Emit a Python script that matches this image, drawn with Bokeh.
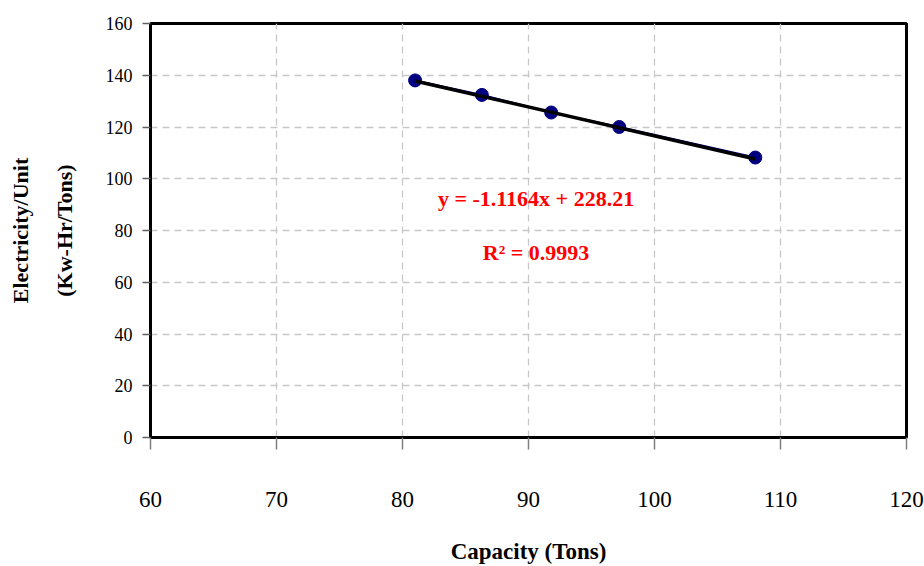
from bokeh.plotting import figure
from bokeh.models import Label, LinearAxis, FixedTicker, ColumnDataSource
from bokeh.embed import file_html
from bokeh.resources import INLINE

# ---- data ----
capacity = [81.0, 86.3, 91.8, 97.2, 108.0]
electricity = [138.0, 132.4, 125.6, 120.0, 108.2]
slope = -1.1164
intercept = 228.21
r_squared = 0.9993
x_ticks = [60, 70, 80, 90, 100, 110, 120]
y_ticks = [0, 20, 40, 60, 80, 100, 120, 140, 160]

FONT = "Liberation Serif"

p = figure(width=924, height=566, x_range=(60, 120), y_range=(0, 160),
           output_backend="svg", toolbar_location=None,
           min_border_left=150, min_border_right=18, min_border_top=23, min_border_bottom=129)

p.outline_line_color = "black"
p.outline_line_width = 3
p.background_fill_color = "white"
p.border_fill_color = "white"

# grid
for g in (p.xgrid, p.ygrid):
    g.grid_line_color = "#c8c8c8"
    g.grid_line_dash = "7 5"
    g.grid_line_width = 1.3
p.xaxis.ticker = FixedTicker(ticks=x_ticks)
p.yaxis.ticker = FixedTicker(ticks=y_ticks)

# x axis
xa = p.xaxis[0]
xa.axis_line_color = "black"
xa.axis_line_width = 3
xa.major_tick_in = 0
xa.major_tick_out = 12
xa.major_tick_line_color = "#808080"
xa.major_tick_line_width = 1.5
xa.minor_tick_line_color = None
xa.major_label_standoff = 42
xa.major_label_text_font = FONT
xa.major_label_text_font_size = "23px"
xa.major_label_text_color = "black"
xa.axis_label = "Capacity (Tons)"
xa.axis_label_text_font = FONT
xa.axis_label_text_font_size = "23px"
xa.axis_label_text_font_style = "bold"
xa.axis_label_text_color = "black"
xa.axis_label_standoff = 29

# y axis
ya = p.yaxis[0]
ya.axis_line_color = "black"
ya.axis_line_width = 3
ya.major_tick_in = 0
ya.major_tick_out = 8
ya.major_tick_line_color = "#606060"
ya.major_tick_line_width = 1.5
ya.minor_tick_line_color = None
ya.major_label_standoff = 10
ya.major_label_text_font = FONT
ya.major_label_text_font_size = "18px"
ya.major_label_text_color = "black"
ya.axis_label = "(Kw-Hr/Tons)"
ya.axis_label_text_font = FONT
ya.axis_label_text_font_size = "22px"
ya.axis_label_text_font_style = "bold"
ya.axis_label_text_color = "black"
ya.axis_label_standoff = 26

# outer line of the y title
ya2 = LinearAxis(ticker=FixedTicker(ticks=[]), axis_line_color=None,
                 major_tick_line_color=None, minor_tick_line_color=None,
                 major_tick_out=0, minor_tick_out=0,
                 axis_label="Electricity/Unit", axis_label_text_font=FONT,
                 axis_label_text_font_size="22px", axis_label_text_font_style="bold",
                 axis_label_text_color="black", axis_label_standoff=16)
p.add_layout(ya2, "left")

# data series
src = ColumnDataSource(dict(x=capacity, y=electricity))
p.line("x", "y", source=src, line_color="#000080", line_width=2)
p.scatter("x", "y", source=src, size=13, fill_color="#000080", line_color="#000080")

# trendline from the fit
tx = [min(capacity), max(capacity)]
ty = [slope * v + intercept for v in tx]
p.line(tx, ty, line_color="black", line_width=3.5)

eq = f"y = {slope}x + {intercept}"
p.add_layout(Label(x=90.6, y=92.4, text=eq, text_align="center", text_baseline="middle",
                   text_font=FONT, text_font_size="22px", text_font_style="bold",
                   text_color="#ff0000"))
p.add_layout(Label(x=90.6, y=71.5, text=f"R\u00b2 = {r_squared}", text_align="center",
                   text_baseline="middle", text_font=FONT, text_font_size="22px",
                   text_font_style="bold", text_color="#ff0000"))

open("out.html", "w").write(file_html(p, INLINE))
